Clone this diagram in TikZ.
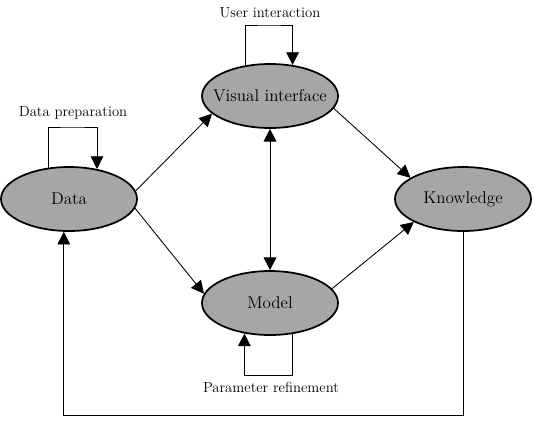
\documentclass[tikz,border=0pt]{standalone}
\usetikzlibrary{arrows.meta,shapes.geometric}
\definecolor{nodefill}{RGB}{166,166,166}
\begin{document}
\begin{tikzpicture}[x=0.75pt,y=-0.75pt,
  blob/.style={ellipse,draw=black,line width=1.3pt,fill=nodefill,
    minimum width=102pt,minimum height=48pt,inner sep=0pt,
    font=\fontsize{12.8}{15}\selectfont},
  conn/.style={draw=black,line width=0.65pt,-{Triangle[length=9.5pt,width=9.5pt]}},
  biconn/.style={draw=black,line width=0.65pt,{Triangle[length=9.5pt,width=9.5pt]}-{Triangle[length=9.5pt,width=9.5pt]}},
  looplabel/.style={inner sep=0pt,font=\fontsize{11}{13}\selectfont}]
\useasboundingbox (0,0) rectangle (534,422);

\node[blob] (da) at (69,199) {\makebox[0pt][c]{Data}};
\node[blob] (vi) at (270,96) {\makebox[0pt][c]{Visual interface}};
\node[blob] (mo) at (270,303) {\makebox[0pt][c]{Model}};
\node[blob] (kn) at (463,199) {\makebox[0pt][c]{Knowledge}};

% loop corners
\coordinate (uitop) at (270,25);
\coordinate (dptop) at (72,127);
\coordinate (prbot) at (270,375);
\coordinate (bt) at (265,415);

\node[looplabel] (uil) at (270,13) {User interaction};
\node[looplabel] (dpl) at (73,113) {Data preparation};
\node[looplabel] (prl) at (271,387) {Parameter refinement};

% self loops
\draw[conn] (vi.129) |- (uitop) -| (vi.54);
\draw[conn] (da.123) |- (dptop) -| (da.47);
\draw[conn] (mo.306) |- (prbot) -| (mo.230);

% edges
\draw[conn] (da.7) -- (vi.197);
\draw[conn] (da.-8) -- (mo.172);
\draw[conn] (vi.349) -- (kn.158);
\draw[conn] (mo.13) -- (kn.205);
\draw[biconn] (vi.south) -- (mo.north);
\draw[conn] (kn.south) |- (bt) -| (da.261);
\end{tikzpicture}
\end{document}
